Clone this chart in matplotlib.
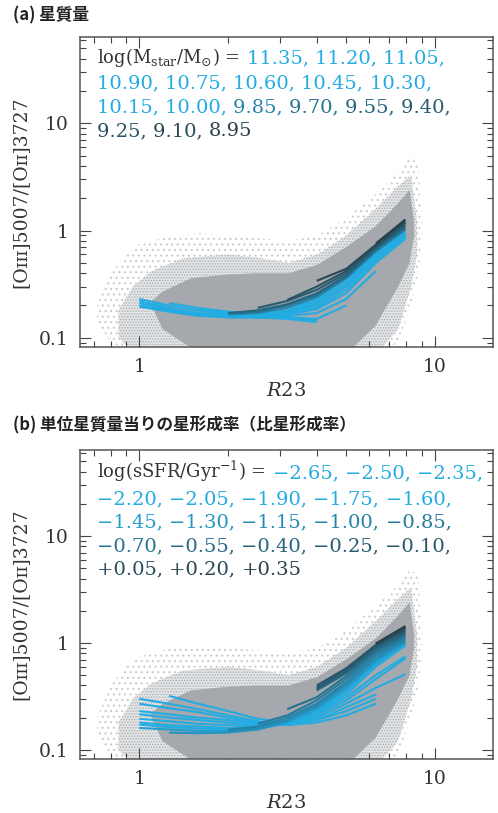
import numpy as np
import matplotlib
matplotlib.use("Agg")
import matplotlib.pyplot as plt
import matplotlib.colors as mcolors
from matplotlib.offsetbox import TextArea, HPacker, VPacker, AnchoredOffsetbox, DrawingArea
from matplotlib.ticker import LogLocator, NullFormatter

plt.rcParams['font.family'] = ['DejaVu Serif']
plt.rcParams['mathtext.fontset'] = 'dejavuserif'
plt.rcParams['hatch.linewidth'] = 0.8

nan = np.nan

# R23 bin centres used by the median curves
r23_grid = [1.0, 1.26, 1.58, 2.0, 2.51, 3.16, 3.98, 5.01, 6.31, 7.94]

# (a) stellar-mass bins, from most massive (cyan) to least massive (dark)
mass_bins = ["11.35", "11.20", "11.05", "10.90", "10.75", "10.60", "10.45",
             "10.30", "10.15", "10.00", "9.85", "9.70", "9.55", "9.40",
             "9.25", "9.10", "8.95"]
mass_ratio = [
    [0.22, 0.19, 0.17, 0.16, 0.155, 0.15, 0.14, nan, nan, nan],
    [0.23, 0.20, 0.18, 0.165, 0.16, 0.155, 0.145, nan, nan, nan],
    [0.21, 0.185, 0.17, 0.16, 0.155, 0.155, 0.15, 0.20, nan, nan],
    [0.20, 0.18, 0.165, 0.155, 0.155, 0.16, 0.17, 0.23, 0.42, nan],
    [nan, 0.21, 0.19, 0.175, 0.165, 0.165, 0.185, 0.26, 0.50, 0.84],
    [0.195, 0.175, 0.16, 0.155, 0.155, 0.165, 0.19, 0.28, 0.52, 0.88],
    [nan, nan, 0.185, 0.17, 0.165, 0.17, 0.20, 0.30, 0.55, 0.90],
    [nan, nan, nan, 0.165, 0.16, 0.17, 0.21, 0.31, 0.57, 0.92],
    [nan, nan, nan, 0.17, 0.165, 0.175, 0.22, 0.33, 0.60, 0.96],
    [nan, nan, nan, 0.165, 0.165, 0.18, 0.23, 0.35, 0.62, 0.98],
    [nan, nan, nan, 0.165, 0.17, 0.19, 0.24, 0.36, 0.64, 1.02],
    [nan, nan, nan, 0.17, 0.175, 0.20, 0.25, 0.37, 0.66, 1.05],
    [nan, nan, nan, 0.17, 0.18, 0.205, 0.26, 0.38, 0.68, 1.09],
    [nan, nan, nan, nan, 0.19, 0.22, 0.28, 0.40, 0.70, 1.13],
    [nan, nan, nan, nan, nan, 0.225, 0.30, 0.42, 0.72, 1.18],
    [nan, nan, nan, nan, nan, nan, 0.34, 0.44, 0.74, 1.22],
    [nan, nan, nan, nan, nan, nan, nan, nan, 0.76, 1.27],
]

# (b) specific-SFR bins, from lowest (cyan) to highest (dark)
ssfr_bins = ["−2.65", "−2.50", "−2.35", "−2.20", "−2.05", "−1.90", "−1.75",
             "−1.60", "−1.45", "−1.30", "−1.15", "−1.00", "−0.85", "−0.70",
             "−0.55", "−0.40", "−0.25", "−0.10", "+0.05", "+0.20", "+0.35"]
ssfr_ratio = [
    [0.30, 0.27, 0.24, 0.21, 0.185, 0.17, 0.18, 0.21, 0.27, nan],
    [nan, 0.32, 0.27, 0.23, 0.195, 0.18, 0.19, 0.23, 0.30, nan],
    [0.27, 0.245, 0.225, 0.20, 0.18, 0.175, 0.19, 0.25, 0.33, nan],
    [0.23, 0.215, 0.20, 0.19, 0.175, 0.175, 0.20, 0.27, 0.38, 0.51],
    [0.215, 0.20, 0.19, 0.18, 0.17, 0.175, 0.21, 0.29, 0.46, 0.72],
    [0.195, 0.185, 0.175, 0.17, 0.165, 0.175, 0.22, 0.31, 0.50, 0.75],
    [0.18, 0.17, 0.165, 0.16, 0.16, 0.175, 0.225, 0.33, 0.60, 0.95],
    [0.172, 0.163, 0.158, 0.155, 0.158, 0.178, 0.23, 0.35, 0.63, 0.97],
    [0.16, 0.155, 0.15, 0.15, 0.155, 0.18, 0.24, 0.37, 0.66, 1.00],
    [nan, 0.145, 0.143, 0.145, 0.155, 0.185, 0.25, 0.39, 0.69, 1.02],
    [nan, nan, nan, 0.15, 0.16, 0.19, 0.26, 0.41, 0.72, 1.05],
    [nan, nan, nan, 0.155, 0.165, 0.20, 0.27, 0.43, 0.76, 1.09],
    [nan, nan, nan, nan, 0.175, 0.21, 0.29, 0.46, 0.80, 1.13],
    [nan, nan, nan, nan, nan, 0.24, 0.31, 0.49, 0.84, 1.17],
    [nan, nan, nan, nan, nan, nan, 0.36, 0.52, 0.87, 1.21],
    [nan, nan, nan, nan, nan, nan, 0.37, 0.54, 0.90, 1.25],
    [nan, nan, nan, nan, nan, nan, 0.38, 0.56, 0.93, 1.29],
    [nan, nan, nan, nan, nan, nan, 0.40, 0.58, 0.96, 1.33],
    [nan, nan, nan, nan, nan, nan, nan, nan, 0.97, 1.37],
    [nan, nan, nan, nan, nan, nan, nan, nan, 0.98, 1.41],
    [nan, nan, nan, nan, nan, nan, nan, nan, 0.99, 1.44],
]

# outline of the SDSS galaxy cloud (same sample in both panels)
# sparse outskirts
halo_x = [0.72, 0.8, 0.9, 1.0, 1.3, 1.6, 2.0, 2.5, 3.2, 4.0, 5.0, 6.3, 7.5, 8.3, 8.8, 9.0]
halo_lo = [0.14, 0.09, 0.07, 0.07, 0.07, 0.07, 0.07, 0.07, 0.07, 0.07, 0.07, 0.07, 0.09, 0.2, 0.4, 0.8]
halo_hi = [0.2, 0.4, 0.6, 0.75, 0.9, 0.95, 0.9, 0.85, 0.8, 0.9, 1.3, 2.2, 3.5, 5.0, 4.0, 1.5]
# moderately dense speckle
mid_x = [0.85, 0.95, 1.1, 1.4, 2.0, 2.6, 3.2, 4.0, 5.0, 6.3, 7.5, 8.3, 8.7]
mid_lo = [0.1, 0.075, 0.07, 0.07, 0.07, 0.07, 0.07, 0.07, 0.07, 0.07, 0.12, 0.3, 0.6]
mid_hi = [0.18, 0.3, 0.42, 0.55, 0.6, 0.55, 0.5, 0.6, 0.9, 1.6, 2.6, 3.3, 1.2]
# solid core
core_x = [1.1, 1.2, 1.5, 2.0, 2.5, 3.2, 4.0, 5.0, 6.3, 7.5, 8.2, 8.5]
core_lo = [0.2, 0.12, 0.08, 0.07, 0.07, 0.07, 0.07, 0.07, 0.13, 0.3, 0.5, 0.9]
core_hi = [0.22, 0.27, 0.36, 0.39, 0.40, 0.40, 0.48, 0.7, 1.1, 1.8, 2.4, 1.2]


def ramp(n, n_cyan, power):
    cyan = np.array(mcolors.to_rgb('#22ace2'))
    dark = np.array(mcolors.to_rgb('#2a414c'))
    cols = []
    for i in range(n):
        t = 0.0 if i < n_cyan else ((i - n_cyan + 1) / (n - n_cyan)) ** power
        cols.append(cyan * (1 - t) + dark * t)
    return cols


def draw_panel(ax, ratios, colors):
    ax.fill_between(halo_x, halo_lo, halo_hi, facecolor='none',
                    edgecolor='#c9ccce', hatch='...', linewidth=0, zorder=1)
    ax.fill_between(mid_x, mid_lo, mid_hi, facecolor='#e4e6e8',
                    edgecolor='#b0b3b6', hatch='......', linewidth=0, zorder=1.5)
    ax.fill_between(core_x, core_lo, core_hi, facecolor='#a5a8ac',
                    edgecolor='none', linewidth=0, zorder=2)
    for vals, c in zip(ratios, colors):
        ax.plot(r23_grid, vals, color=c, lw=1.5, zorder=3,
                solid_capstyle='butt')

    ax.set_xscale('log')
    ax.set_yscale('log')
    ax.set_xlim(0.63, 15.7)
    ax.set_ylim(0.082, 64)
    ax.set_xticks([1, 10], ['1', '10'])
    ax.set_yticks([0.1, 1, 10], ['0.1', '1', '10'])
    ax.xaxis.set_minor_locator(LogLocator(base=10, subs=np.arange(2, 10)))
    ax.yaxis.set_minor_locator(LogLocator(base=10, subs=np.arange(2, 10)))
    ax.xaxis.set_minor_formatter(NullFormatter())
    ax.yaxis.set_minor_formatter(NullFormatter())
    ax.tick_params(which='both', direction='in', top=True, right=True,
                   color='#444444', width=0.8, labelsize=13.5,
                   labelcolor='#333333')
    ax.tick_params(which='major', length=8)
    ax.tick_params(which='minor', length=4)
    ax.tick_params(axis='x', pad=8)
    ax.tick_params(axis='y', pad=8)
    for s in ax.spines.values():
        s.set_color('#555555')
        s.set_linewidth(1.1)
    ax.set_xlabel('$R23$', fontsize=14, color='#333333', labelpad=4)
    ax.set_ylabel('[Oɪɪɪ]5007/[Oɪɪ]3727', fontsize=13.5, color='#333333',
                  labelpad=7)


def legend_block(ax, label, values, colors, rows):
    fs = 14
    lines = []
    k = 0
    for r, n in enumerate(rows):
        parts = []
        if r == 0:
            parts.append(TextArea(label, textprops=dict(color='#333333', fontsize=13)))
            parts.append(DrawingArea(5, 1))
        for j in range(n):
            last = (k == len(values) - 1)
            txt = values[k] + ('' if last else ', ')
            parts.append(TextArea(txt, textprops=dict(color=colors[k], fontsize=fs)))
            k += 1
        lines.append(HPacker(children=parts, align='baseline', pad=0, sep=0))
    box = VPacker(children=lines, align='left', pad=0, sep=4)
    anch = AnchoredOffsetbox(loc='upper left', child=box, pad=0, borderpad=0,
                             frameon=False, bbox_to_anchor=(0.041, 0.97),
                             bbox_transform=ax.transAxes)
    ax.add_artist(anch)


fig = plt.figure(figsize=(4.98, 8.13), dpi=100)
ax1 = fig.add_axes([80 / 498, 1 - 347 / 813, 413 / 498, 310 / 813])
ax2 = fig.add_axes([80 / 498, 1 - 759 / 813, 413 / 498, 309 / 813])

mass_colors = ramp(len(mass_bins), 10, 0.5)
ssfr_colors = ramp(len(ssfr_bins), 8, 0.8)

draw_panel(ax1, mass_ratio, mass_colors)
draw_panel(ax2, ssfr_ratio, ssfr_colors)

legend_block(ax1, r'log(M$_{\mathrm{star}}$/M$_{\odot}$) =', mass_bins,
             mass_colors, [3, 5, 6, 3])
legend_block(ax2, r'log(sSFR/Gyr$^{-1}$) =', ssfr_bins,
             ssfr_colors, [3, 5, 5, 5, 3])

title_font = ['Noto Sans CJK JP', 'DejaVu Sans']
fig.text(13 / 498, 1 - 15 / 813, '(a) 星質量', family=title_font,
         fontweight='bold', fontsize=12, va='center', ha='left', color='#222222')
fig.text(13 / 498, 1 - 425 / 813, '(b) 単位星質量当りの星形成率（比星形成率）',
         family=title_font, fontweight='bold', fontsize=12, va='center',
         ha='left', color='#222222')

fig.savefig('out.png', dpi=100)
